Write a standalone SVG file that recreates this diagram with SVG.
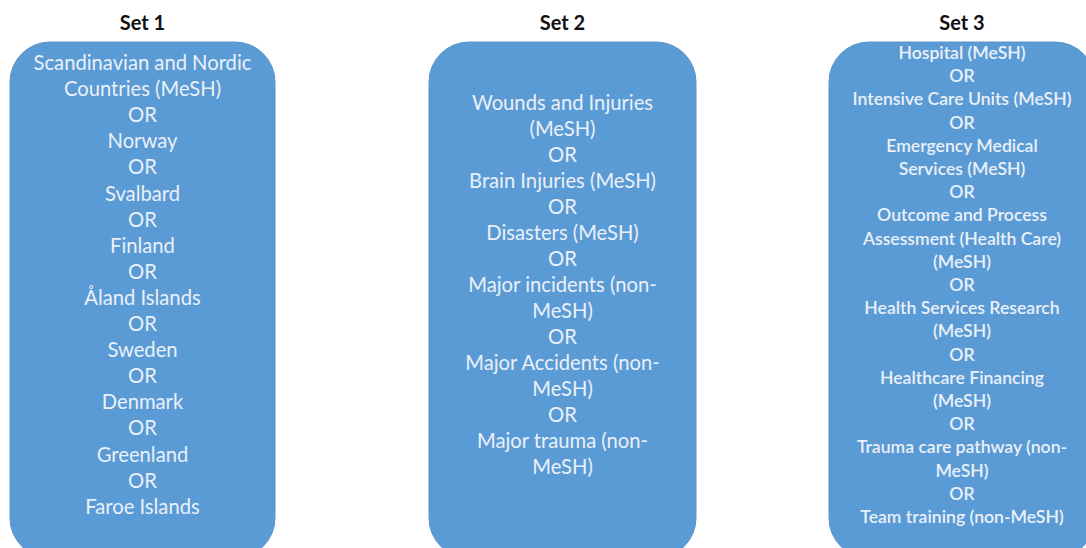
<svg xmlns="http://www.w3.org/2000/svg" width="1086" height="548" viewBox="0 0 1086 548">
<style>
.box{fill:#5b9bd5;stroke:#5a93c9;stroke-width:1}
.title{font-family:Lato,"Open Sans",sans-serif;font-weight:bold;font-size:20px;fill:#111;text-anchor:middle}
.t{font-family:Lato,"Open Sans",sans-serif;font-size:20.2px;fill:#eaf0f8;text-anchor:middle}
.t3{font-family:Lato,"Open Sans",sans-serif;font-size:17.6px;font-weight:600;fill:#eaf0f8;text-anchor:middle}
</style>
<rect width="1086" height="548" fill="#ffffff"/>
<g id="set1">
<text class="title" x="142.5" y="30">Set 1</text>
<rect class="box" x="10" y="42" width="265" height="516" rx="40"/>
<text class="t" x="142.5" y="70"><tspan x="142.5" dy="0">Scandinavian and Nordic</tspan><tspan x="142.5" dy="26.1">Countries (MeSH)</tspan><tspan x="142.5" dy="26.1">OR</tspan><tspan x="142.5" dy="26.1">Norway</tspan><tspan x="142.5" dy="26.1">OR</tspan><tspan x="142.5" dy="26.1">Svalbard</tspan><tspan x="142.5" dy="26.1">OR</tspan><tspan x="142.5" dy="26.1">Finland</tspan><tspan x="142.5" dy="26.1">OR</tspan><tspan x="142.5" dy="26.1">Åland Islands</tspan><tspan x="142.5" dy="26.1">OR</tspan><tspan x="142.5" dy="26.1">Sweden</tspan><tspan x="142.5" dy="26.1">OR</tspan><tspan x="142.5" dy="26.1">Denmark</tspan><tspan x="142.5" dy="26.1">OR</tspan><tspan x="142.5" dy="26.1">Greenland</tspan><tspan x="142.5" dy="26.1">OR</tspan><tspan x="142.5" dy="26.1">Faroe Islands</tspan></text>
</g>
<g id="set2">
<text class="title" x="562.5" y="30">Set 2</text>
<rect class="box" x="429" y="42" width="267" height="516" rx="40"/>
<text class="t" x="562.5" y="110"><tspan x="562.5" dy="0">Wounds and Injuries</tspan><tspan x="562.5" dy="26">(MeSH)</tspan><tspan x="562.5" dy="26">OR</tspan><tspan x="562.5" dy="26">Brain Injuries (MeSH)</tspan><tspan x="562.5" dy="26">OR</tspan><tspan x="562.5" dy="26">Disasters (MeSH)</tspan><tspan x="562.5" dy="26">OR</tspan><tspan x="562.5" dy="26">Major incidents (non-</tspan><tspan x="562.5" dy="26">MeSH)</tspan><tspan x="562.5" dy="26">OR</tspan><tspan x="562.5" dy="26">Major Accidents (non-</tspan><tspan x="562.5" dy="26">MeSH)</tspan><tspan x="562.5" dy="26">OR</tspan><tspan x="562.5" dy="26">Major trauma (non-</tspan><tspan x="562.5" dy="26">MeSH)</tspan></text>
</g>
<g id="set3">
<text class="title" x="962" y="30">Set 3</text>
<rect class="box" x="829" y="42" width="266" height="516" rx="40"/>
<text class="t3" x="962" y="59"><tspan x="962" dy="0">Hospital (MeSH)</tspan><tspan x="962" dy="23.2">OR</tspan><tspan x="962" dy="23.2">Intensive Care Units (MeSH)</tspan><tspan x="962" dy="23.2">OR</tspan><tspan x="962" dy="23.2">Emergency Medical</tspan><tspan x="962" dy="23.2">Services (MeSH)</tspan><tspan x="962" dy="23.2">OR</tspan><tspan x="962" dy="23.2">Outcome and Process</tspan><tspan x="962" dy="23.2">Assessment (Health Care)</tspan><tspan x="962" dy="23.2">(MeSH)</tspan><tspan x="962" dy="23.2">OR</tspan><tspan x="962" dy="23.2">Health Services Research</tspan><tspan x="962" dy="23.2">(MeSH)</tspan><tspan x="962" dy="23.2">OR</tspan><tspan x="962" dy="23.2">Healthcare Financing</tspan><tspan x="962" dy="23.2">(MeSH)</tspan><tspan x="962" dy="23.2">OR</tspan><tspan x="962" dy="23.2">Trauma care pathway (non-</tspan><tspan x="962" dy="23.2">MeSH)</tspan><tspan x="962" dy="23.2">OR</tspan><tspan x="962" dy="23.2">Team training (non-MeSH)</tspan></text>
</g>
</svg>
